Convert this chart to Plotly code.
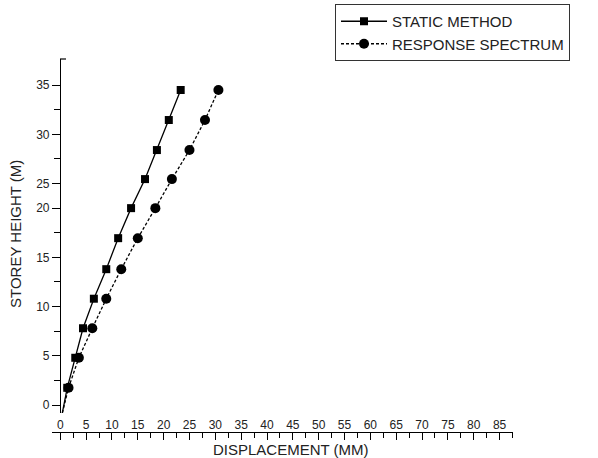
import plotly.graph_objects as go

# Data (axis units)
storey_y = [1.75, 4.8, 7.8, 10.8, 13.8, 16.95, 20.0, 22.95, 25.9, 28.95, 32.0]
static_x = [1.35, 2.9, 4.4, 6.5, 8.9, 11.2, 13.7, 16.4, 18.7, 21.0, 23.3]
response_x = [1.6, 3.6, 6.2, 8.9, 11.8, 15.0, 18.4, 21.6, 25.0, 28.0, 30.6]
origin_x = [0.4]
origin_y = [-0.8]

y_major_vals = [0, 5, 10, 15, 20, 22.5, 27.5, 32.5]
y_major_text = ["0", "5", "10", "15", "20", "25", "30", "35"]
y_minor_vals = [2.5, 7.5, 12.5, 17.5, 25, 30]
x_tick_vals = list(range(0, 90, 5))
x_tick_text = [str(v) for v in x_tick_vals]

FONT = "Liberation Sans, Arial, sans-serif"

fig = go.Figure()

# lead-in segments from origin to first point
fig.add_trace(go.Scatter(x=origin_x + static_x[:1], y=origin_y + storey_y[:1], mode="lines",
                         line=dict(color="black", width=1.3), showlegend=False, hoverinfo="skip"))
fig.add_trace(go.Scatter(x=origin_x + response_x[:1], y=origin_y + storey_y[:1], mode="lines",
                         line=dict(color="black", width=1.3, dash="3px,2px"), showlegend=False, hoverinfo="skip"))

fig.add_trace(go.Scatter(x=static_x, y=storey_y, mode="lines+markers", name="STATIC METHOD",
                         line=dict(color="black", width=1.3),
                         marker=dict(symbol="square", size=8, color="black")))
fig.add_trace(go.Scatter(x=response_x, y=storey_y, mode="lines+markers", name="RESPONSE SPECTRUM",
                         line=dict(color="black", width=1.3, dash="3px,2px"),
                         marker=dict(symbol="circle", size=10, color="black")))

L, R, T, B = 52, 85, 59, 26
W, H = 598, 458
pw = W - L - R
ph = H - T - B
y_axis_px = 60
y_bottom_px = 413

fig.update_layout(
    width=W, height=H,
    margin=dict(l=L, r=R, t=T, b=B, autoexpand=False),
    paper_bgcolor="white", plot_bgcolor="white",
    font=dict(family=FONT, size=12, color="#222"),
    showlegend=True,
    legend=dict(xref="container", yref="container",
                x=335 / W, y=1 - 4 / H, xanchor="left", yanchor="top",
                bordercolor="#333", borderwidth=1, bgcolor="white",
                font=dict(family=FONT, size=15, color="#222"),
                itemwidth=46, tracegroupgap=0),
    xaxis=dict(range=[-1.6, 87.6], anchor="free", position=0, automargin=False,
               showline=True, linecolor="black", linewidth=1.2,
               showgrid=False, zeroline=False,
               tickmode="array", tickvals=x_tick_vals, ticktext=x_tick_text,
               ticks="outside", ticklen=7, tickwidth=1.2, tickcolor="black",
               ticklabelposition="inside",
               tickfont=dict(family=FONT, size=12, color="#222"),
               minor=dict(tickmode="linear", tick0=2.5, dtick=5, ticks="outside",
                          ticklen=5, tickwidth=1.2, tickcolor="black")),
    yaxis=dict(range=[-0.81, 35.15], domain=[(H - B - y_bottom_px) / ph, 1],
               anchor="free", position=(y_axis_px - L) / pw, automargin=False,
               showline=True, linecolor="black", linewidth=1.2,
               showgrid=False, zeroline=False,
               tickmode="array", tickvals=y_major_vals, ticktext=y_major_text,
               ticks="outside", ticklen=8, tickwidth=1.2, tickcolor="black",
               tickfont=dict(family=FONT, size=12, color="#222"),
               minor=dict(tickmode="array", tickvals=y_minor_vals, ticks="outside",
                          ticklen=6, tickwidth=1.2, tickcolor="black")),
    annotations=[
        dict(text="DISPLACEMENT (MM)", xref="paper", yref="paper",
             x=(291 - L) / pw, y=(H - B - 449) / ph, xanchor="center", yanchor="middle",
             showarrow=False, font=dict(family=FONT, size=15, color="#222")),
        dict(text="STOREY HEIGHT (M)", xref="paper", yref="paper",
             x=(15 - L) / pw, y=(H - B - 234) / ph, xanchor="center", yanchor="middle",
             textangle=-90, showarrow=False, font=dict(family=FONT, size=15, color="#222")),
    ],
    shapes=[
        dict(type="line", xref="paper", yref="paper",
             x0=(y_axis_px - L) / pw, x1=(y_axis_px + 6 - L) / pw, y0=1, y1=1,
             line=dict(color="black", width=1.2)),
    ],
)

fig.write_html("out.html", config={"displayModeBar": False},
               post_script="document.body.style.margin='0';document.body.style.overflow='hidden';")
